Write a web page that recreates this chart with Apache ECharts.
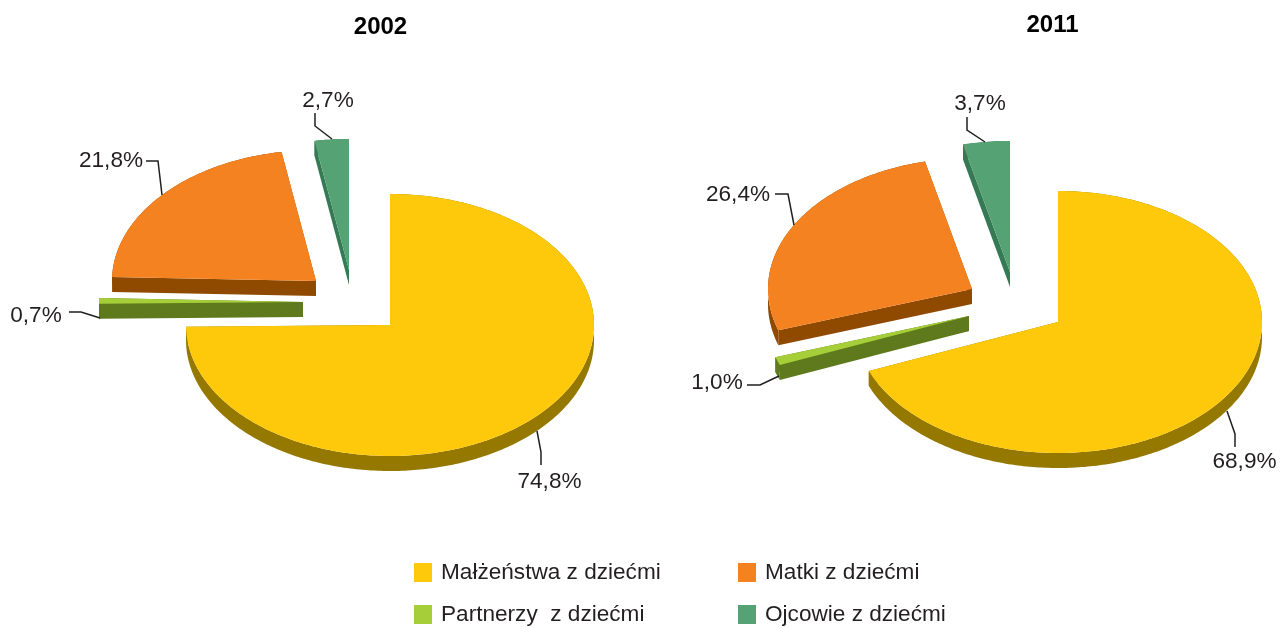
<!DOCTYPE html>
<html>
<head>
<meta charset="utf-8">
<style>html,body{margin:0;padding:0;background:#fff}#c{width:1280px;height:628px}</style>
<script src="https://cdn.jsdelivr.net/npm/echarts@6/dist/echarts.min.js"></script>
</head>
<body>
<div id="c"></div>
<script>
// ---- data ----
const years = ['2002', '2011'];
const categories = ['Małżeństwa z dziećmi', 'Partnerzy  z dziećmi', 'Matki z dziećmi', 'Ojcowie z dziećmi'];
const values2002 = [74.8, 0.7, 21.8, 2.7];
const values2011 = [68.9, 1.0, 26.4, 3.7];
const valuesByYear = [values2002, values2011];

// ---- style ----
const topColors = ['#FFC90B', '#A6CE39', '#F58220', '#55A274'];
const sideColors = ['#957800', '#5E7A1C', '#8F4A00', '#357A55'];
const inkColor = '#231F20';
const FONT = '"Liberation Sans", Arial, sans-serif';

// ---- layout: exploded pie geometry (ellipse radii, wall height, slice apex per year) ----
const RX = 204, RY = 131, DEPTH = 15;
const apexes = [
  [[390, 325], [303, 302], [316, 281], [349, 270]],
  [[1058, 322], [969, 316], [972, 289], [1010, 272]]
];
const labelPos = [
  [[549.5, 482], [36, 316], [111, 161], [328, 101]],
  [[1244.5, 462], [717, 383], [738, 195], [980, 104]]
];
const leaders = [
  [[[537, 431], [541, 452], [541, 465]], [[69, 312], [81, 312], [100, 318]], [[146, 161], [158, 161], [162, 195]], [[315, 113], [315, 126], [332, 139]]],
  [[[1227, 411], [1235, 434], [1235, 447]], [[747, 385], [760, 385], [779, 376]], [[775, 194], [788, 194], [794, 225]], [[967, 117], [967, 130], [985, 142]]]
];
const legendPos = [[414, 561], [414, 603], [738, 561], [738, 603]];

function fmt(v) { return v.toFixed(1).replace('.', ',') + '%'; }
function down(p) { return [p[0], p[1] + DEPTH]; }

function makeRender(catIndex) {
  return function (params, api) {
    const yi = api.value(0);
    const val = api.value(1);
    const vals = valuesByYear[yi];
    let before = 0;
    for (let i = 0; i < catIndex; i++) before += vals[i];
    const total = vals.reduce((a, b) => a + b, 0);
    const a0 = before / total * Math.PI * 2;
    const a1 = (before + val) / total * Math.PI * 2;
    const apex = apexes[yi][catIndex];
    const arc = [];
    const steps = Math.max(4, Math.ceil((a1 - a0) / 0.015));
    for (let s = 0; s <= steps; s++) {
      const a = a0 + (a1 - a0) * s / steps;
      arc.push([apex[0] + RX * Math.sin(a), apex[1] - RY * Math.cos(a)]);
    }
    const first = arc[0], last = arc[arc.length - 1];
    const walls = [
      [apex, first, down(first), down(apex)],
      [apex, last, down(last), down(apex)],
      arc.concat(arc.slice().reverse().map(down))
    ];
    const children = walls.map(points => ({
      type: 'polygon',
      shape: { points },
      style: { fill: sideColors[catIndex] }
    }));
    children.push({
      type: 'polygon',
      shape: { points: [apex].concat(arc) },
      style: { fill: topColors[catIndex] }
    });
    children.push({
      type: 'polyline',
      shape: { points: leaders[yi][catIndex] },
      style: { stroke: inkColor, lineWidth: 1.5, fill: null }
    });
    children.push({
      type: 'text',
      style: {
        text: fmt(val),
        x: labelPos[yi][catIndex][0],
        y: labelPos[yi][catIndex][1],
        fill: inkColor,
        font: '22.6px ' + FONT,
        textAlign: 'center',
        textVerticalAlign: 'middle'
      }
    });
    return { type: 'group', children };
  };
}

const chart = echarts.init(document.getElementById('c'), null, { renderer: 'canvas' });
chart.setOption({
  animation: false,
  backgroundColor: '#ffffff',
  title: [
    { text: years[0], left: 375.5, top: 10, textAlign: 'center', textStyle: { color: '#000', fontFamily: FONT, fontWeight: 'bold', fontSize: 24 } },
    { text: years[1], left: 1047.5, top: 8, textAlign: 'center', textStyle: { color: '#000', fontFamily: FONT, fontWeight: 'bold', fontSize: 24 } }
  ],
  legend: categories.map((name, c) => ({
    left: legendPos[c][0],
    top: legendPos[c][1],
    padding: 0,
    icon: 'rect',
    itemWidth: 18,
    itemHeight: 19,
    selectedMode: false,
    data: [name],
    textStyle: { color: inkColor, fontFamily: FONT, fontSize: 22.6, padding: [0, 0, 0, 4] }
  })),
  series: categories.map((name, c) => ({
    type: 'custom',
    name,
    coordinateSystem: 'none',
    silent: true,
    itemStyle: { color: topColors[c] },
    data: years.map((y, yi) => [yi, valuesByYear[yi][c]]),
    renderItem: makeRender(c)
  }))
});
</script>
</body>
</html>
